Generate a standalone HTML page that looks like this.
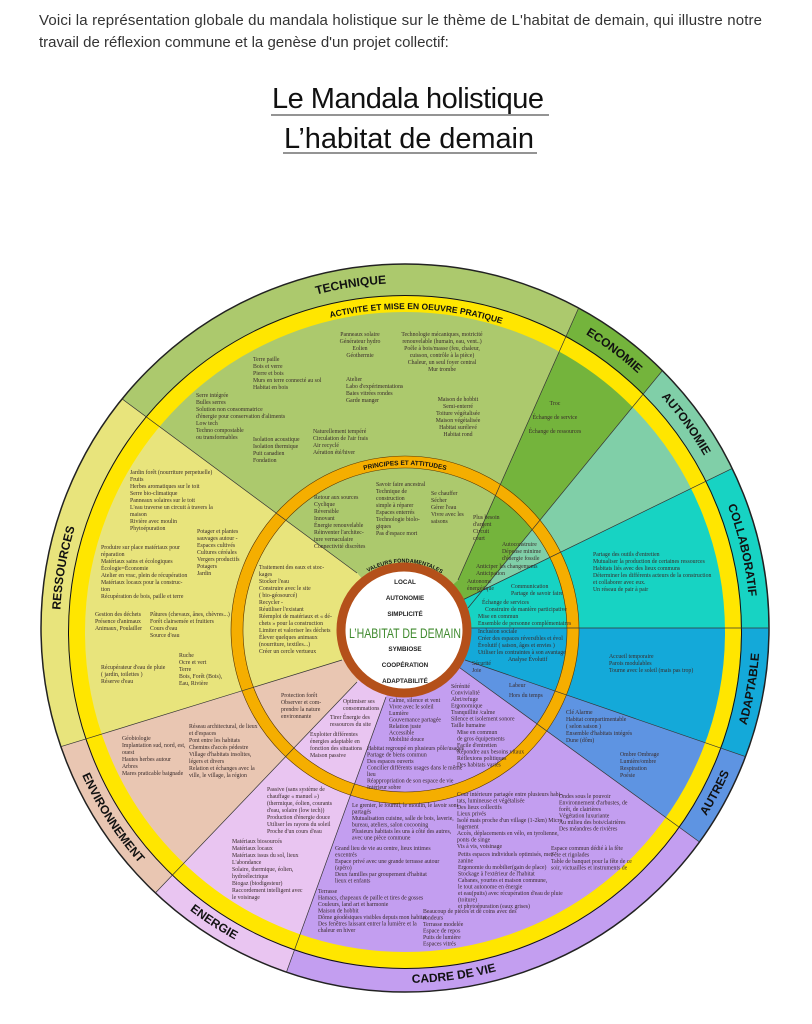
<!DOCTYPE html>
<html><head><meta charset="utf-8"><style>
html,body{margin:0;padding:0;background:#fff;width:812px;height:1024px;overflow:hidden}
svg{display:block}
.t{font-family:"Liberation Serif",serif;font-size:5.8px;fill:#3a2c2c}
.lab{font-family:"Liberation Sans",sans-serif;font-weight:bold;font-size:12px;fill:#111}
</style></head><body>
<svg width="812" height="1024" viewBox="0 0 812 1024" xmlns="http://www.w3.org/2000/svg">
<text x="39" y="25" font-family="Liberation Sans, sans-serif" font-size="15" fill="#333" textLength="723">Voici la représentation globale du mandala holistique sur le thème de L'habitat de demain, qui illustre notre</text>
<text x="39" y="47" font-family="Liberation Sans, sans-serif" font-size="15" fill="#333">travail de réflexion commune et la genèse d'un projet collectif:</text>
<text x="272" y="108" font-family="Liberation Sans, sans-serif" font-size="29" fill="#111" textLength="272">Le Mandala holistique</text>
<line x1="271" y1="115" x2="549" y2="115" stroke="#555" stroke-width="1.2"/>
<text x="284" y="148" font-family="Liberation Sans, sans-serif" font-size="29" fill="#111" textLength="250">L’habitat de demain</text>
<line x1="283" y1="153" x2="537" y2="153" stroke="#555" stroke-width="1.2"/>

<g stroke="none">
<path d="M357 573 L122.2 399 A364 364 0 0 1 578.6 308 L458 580 L405 628Z" fill="#acc96d"/>
<path d="M458 580 L578.6 308 A364 364 0 0 1 662.4 370.6 L468 608 L405 628Z" fill="#74b43c"/>
<path d="M468 608 L662.4 370.6 A364 364 0 0 1 732.2 468.4 L462.5 600 L405 628Z" fill="#80cfa8"/>
<path d="M462.5 600 L732.2 468.4 A364 364 0 0 1 769 628 L469 628 L405 628Z" fill="#17d3c3"/>
<path d="M469 628 L769 628 A364 364 0 0 1 745.4 756.6 L465 660 L405 628Z" fill="#14a9d9"/>
<path d="M465 660 L745.4 756.6 A364 364 0 0 1 699.5 842 L456.8 665.6 L405 628Z" fill="#5e94e2"/>
<path d="M456.8 665.6 L699.5 842 A364 364 0 0 1 286.4 972.2 L386 697 L405 628Z" fill="#c39ef0"/>
<path d="M386 697 L286.4 972.2 A364 364 0 0 1 155.3 893 L357 682 L405 628Z" fill="#e9c5f1"/>
<path d="M357 682 L155.3 893 A364 364 0 0 1 60.7 746.7 L342 660 L405 628Z" fill="#e9c6b2"/>
<path d="M342 660 L60.7 746.7 A364 364 0 0 1 122.2 399 L357 573 L405 628Z" fill="#e8e47c"/>
</g>
<circle cx="405" cy="632" r="328" fill="none" stroke="#ffe600" stroke-width="16"/>
<circle cx="405" cy="632" r="336.5" fill="none" stroke="#111" stroke-width="1"/>
<circle cx="405" cy="628" r="364" fill="none" stroke="#222" stroke-width="1.5"/>
<circle cx="405" cy="630" r="168" fill="none" stroke="#f5ae00" stroke-width="12"/>
<circle cx="405" cy="630" r="174" fill="none" stroke="#553300" stroke-width="0.6"/>
<circle cx="405" cy="630" r="162" fill="none" stroke="#553300" stroke-width="0.6"/>
<g stroke="#333" stroke-width="0.7">
<line x1="357" y1="573" x2="122.2" y2="399"/>
<line x1="458" y1="580" x2="578.6" y2="308"/>
<line x1="468" y1="608" x2="662.4" y2="370.6"/>
<line x1="462.5" y1="600" x2="732.2" y2="468.4"/>
<line x1="469" y1="628" x2="769" y2="628"/>
<line x1="465" y1="660" x2="745.4" y2="756.6"/>
<line x1="456.8" y1="665.6" x2="699.5" y2="842"/>
<line x1="386" y1="697" x2="286.4" y2="972.2"/>
<line x1="357" y1="682" x2="155.3" y2="893"/>
<line x1="342" y1="660" x2="60.7" y2="746.7"/>
</g>
<circle cx="404" cy="630" r="63" fill="#fff" stroke="#b4501a" stroke-width="9"/>

<defs>
<path id="pT" d="M212.1 342 A345 345 0 0 1 500.2 296.5"/>
<path id="pE" d="M476.8 290.6 A345 345 0 0 1 709.6 466.2"/>
<path id="pA" d="M572.3 326.2 A345 345 0 0 1 743.8 562.2"/>
<path id="pC" d="M676.9 415.5 A345 345 0 0 1 742.4 699.8"/>
<path id="pAd" d="M695.7 831.8 A355 355 0 0 0 747.9 536.1"/>
<path id="pAu" d="M618.7 911.6 A355 355 0 0 0 759.6 646.5"/>
<path id="pCa" d="M301.3 967.4 A355 355 0 0 0 598.5 925.8"/>
<path id="pEn" d="M104 816.2 A355 355 0 0 0 355.7 979.5"/>
<path id="pEv" d="M53.5 677.4 A355 355 0 0 0 216.9 929.1"/>
<path id="pR" d="M71.7 717.4 A345 345 0 0 1 122.4 430"/>
<path id="pAc" d="M253.5 346.8 A323 323 0 0 1 576.2 358.1"/>
<path id="pP" d="M322.5 487.1 A165 165 0 0 1 487.5 487.1"/>
<path id="pV" d="M353 584 A70 70 0 0 1 456 586"/>
</defs>
<g class="lab">
<text><textPath href="#pT" startOffset="50%" text-anchor="middle">TECHNIQUE</textPath></text>
<text><textPath href="#pE" startOffset="50%" text-anchor="middle">ECONOMIE</textPath></text>
<text><textPath href="#pA" startOffset="50%" text-anchor="middle">AUTONOMIE</textPath></text>
<text><textPath href="#pC" startOffset="50%" text-anchor="middle">COLLABORATIF</textPath></text>
<text><textPath href="#pAd" startOffset="50%" text-anchor="middle">ADAPTABLE</textPath></text>
<text><textPath href="#pAu" startOffset="50%" text-anchor="middle">AUTRES</textPath></text>
<text><textPath href="#pCa" startOffset="50%" text-anchor="middle">CADRE DE VIE</textPath></text>
<text><textPath href="#pEn" startOffset="50%" text-anchor="middle">ENERGIE</textPath></text>
<text><textPath href="#pEv" startOffset="50%" text-anchor="middle">ENVIRONNEMENT</textPath></text>
<text><textPath href="#pR" startOffset="50%" text-anchor="middle">RESSOURCES</textPath></text>
<text font-size="8.5"><textPath href="#pAc" startOffset="50%" text-anchor="middle">ACTIVITE ET MISE EN OEUVRE PRATIQUE</textPath></text>
<text font-size="6.5"><textPath href="#pP" startOffset="50%" text-anchor="middle">PRINCIPES ET ATTITUDES</textPath></text>
<text font-size="5.5"><textPath href="#pV" startOffset="50%" text-anchor="middle">VALEURS FONDAMENTALES</textPath></text>
</g>
<g font-family="Liberation Sans, sans-serif" font-weight="bold" font-size="6.3" fill="#222" text-anchor="middle">
<text x="405" y="584">LOCAL</text>
<text x="405" y="600">AUTONOMIE</text>
<text x="405" y="616">SIMPLICITÉ</text>
<text x="405" y="651">SYMBIOSE</text>
<text x="405" y="667">COOPÉRATION</text>
<text x="405" y="683">ADAPTABILITÉ</text>
</g>
<text x="405" y="638" text-anchor="middle" font-family="Liberation Sans, sans-serif" font-size="13.5" fill="#3f8a2e" textLength="112" lengthAdjust="spacingAndGlyphs">L’HABITAT DE DEMAIN</text>

<g class="t">
<text x="360" y="336" text-anchor="middle"><tspan x="360">Panneaux solaire</tspan><tspan x="360" dy="7">Générateur hydro</tspan><tspan x="360" dy="7">Eolien</tspan><tspan x="360" dy="7">Géothermie</tspan></text>
<text x="442" y="336" text-anchor="middle"><tspan x="442">Technologie mécaniques, motricité</tspan><tspan x="442" dy="7">renouvelable (humain, eau, vent..)</tspan><tspan x="442" dy="7">Poêle à bois/masse (feu, chaleur,</tspan><tspan x="442" dy="7">cuisson, contrôle à la pièce)</tspan><tspan x="442" dy="7">Chaleur, un seul foyer central</tspan><tspan x="442" dy="7">Mur trombe</tspan></text>
<text x="253" y="361"><tspan x="253">Terre paille</tspan><tspan x="253" dy="7">Bois et verre</tspan><tspan x="253" dy="7">Pierre et bois</tspan><tspan x="253" dy="7">Murs en terre connecté au sol</tspan><tspan x="253" dy="7">Habitat en bois</tspan></text>
<text x="346" y="381"><tspan x="346">Atelier</tspan><tspan x="346" dy="7">Labo d'expérimentations</tspan><tspan x="346" dy="7">Baies vitrées rondes</tspan><tspan x="346" dy="7">Garde manger</tspan></text>
<text x="196" y="397"><tspan x="196">Serre intégrée</tspan><tspan x="196" dy="7">Bulles serres</tspan><tspan x="196" dy="7">Solution non consommatrice</tspan><tspan x="196" dy="7">d'énergie pour conservation d'aliments</tspan><tspan x="196" dy="7">Low tech</tspan><tspan x="196" dy="7">Techno compostable</tspan><tspan x="196" dy="7">ou transformables</tspan></text>
<text x="458" y="401" text-anchor="middle"><tspan x="458">Maison de hobbit</tspan><tspan x="458" dy="7">Semi-enterré</tspan><tspan x="458" dy="7">Toiture végétalisée</tspan><tspan x="458" dy="7">Maison végétalisée</tspan><tspan x="458" dy="7">Habitat surélevé</tspan><tspan x="458" dy="7">Habitat rond</tspan></text>
<text x="253" y="441"><tspan x="253">Isolation acoustique</tspan><tspan x="253" dy="7">Isolation thermique</tspan><tspan x="253" dy="7">Puit canadien</tspan><tspan x="253" dy="7">Fondation</tspan></text>
<text x="313" y="433"><tspan x="313">Naturellement tempéré</tspan><tspan x="313" dy="7">Circulation de l'air frais</tspan><tspan x="313" dy="7">Air recyclé</tspan><tspan x="313" dy="7">Aération été/hiver</tspan></text>
<text x="314" y="499"><tspan x="314">Retour aux sources</tspan><tspan x="314" dy="7">Cyclique</tspan><tspan x="314" dy="7">Réversible</tspan><tspan x="314" dy="7">Innovant</tspan><tspan x="314" dy="7">Énergie renouvelable</tspan><tspan x="314" dy="7">Réinventer l'architec-</tspan><tspan x="314" dy="7">ture vernaculaire</tspan><tspan x="314" dy="7">Connectivité discrètes</tspan></text>
<text x="376" y="486"><tspan x="376">Savoir faire ancestral</tspan><tspan x="376" dy="7">Technique de</tspan><tspan x="376" dy="7">construction</tspan><tspan x="376" dy="7">simple à réparer</tspan><tspan x="376" dy="7">Espaces enterrés</tspan><tspan x="376" dy="7">Technologie biolo-</tspan><tspan x="376" dy="7">giques</tspan><tspan x="376" dy="7">Pas d'espace mort</tspan></text>
<text x="431" y="495"><tspan x="431">Se chauffer</tspan><tspan x="431" dy="7">Sécher</tspan><tspan x="431" dy="7">Gérer l'eau</tspan><tspan x="431" dy="7">Vivre avec les</tspan><tspan x="431" dy="7">saisons</tspan></text>
<text x="555" y="405" text-anchor="middle"><tspan x="555">Troc</tspan><tspan x="555" dy="14">Échange de service</tspan><tspan x="555" dy="14">Échange de ressources</tspan></text>
<text x="473" y="519"><tspan x="473">Plus besoin</tspan><tspan x="473" dy="7">d'argent</tspan><tspan x="473" dy="7">Circuit</tspan><tspan x="473" dy="7">court</tspan></text>
<text x="502" y="546"><tspan x="502">Autoconstruire</tspan><tspan x="502" dy="7">Dépense minime</tspan><tspan x="502" dy="7">d'énergie fossile</tspan></text>
<text x="476" y="568"><tspan x="476">Anticiper les changements</tspan><tspan x="476" dy="7">Anticipation</tspan></text>
<text x="467" y="583"><tspan x="467">Autonome</tspan><tspan x="467" dy="7">énergétique</tspan></text>
<text x="511" y="588"><tspan x="511">Communication</tspan><tspan x="511" dy="7">Partage de savoir faire</tspan></text>
<text x="482" y="604"><tspan x="482">Échange de services</tspan><tspan x="485" dy="7">Construire de manière participative</tspan><tspan x="478" dy="7">Mise en commun</tspan><tspan x="478" dy="7">Ensemble de personne complémentaires</tspan></text>
<text x="593" y="556"><tspan x="593">Partage des outils d'entretien</tspan><tspan x="593" dy="7">Mutualiser la production de certaines ressources</tspan><tspan x="593" dy="7">Habitats liés avec des lieux communs</tspan><tspan x="593" dy="7">Déterminer les différents acteurs de la construction</tspan><tspan x="593" dy="7">et collaborer avec eux.</tspan><tspan x="593" dy="7">Un réseau de pair à pair</tspan></text>
<text x="478" y="633"><tspan x="478">Inclusion sociale</tspan><tspan x="478" dy="7">Créer des espaces réversibles et évol</tspan><tspan x="478" dy="7">Évolutif ( saison, âges et envies )</tspan><tspan x="478" dy="7">Utiliser les contraintes à son avantage</tspan><tspan x="508" dy="7">Analyse Évolutif</tspan></text>
<text x="609" y="658"><tspan x="609">Accueil temporaire</tspan><tspan x="609" dy="7">Parois modulables</tspan><tspan x="609" dy="7">Tourne avec le soleil (mais pas trop)</tspan></text>
<text x="472" y="665"><tspan x="472">Sécurité</tspan><tspan x="472" dy="7">Joie</tspan></text>
<text x="509" y="687"><tspan x="509">Labeur</tspan><tspan x="509" dy="10">Hors du temps</tspan></text>
<text x="566" y="714"><tspan x="566">Clé Alarme</tspan><tspan x="566" dy="7">Habitat compartimentable</tspan><tspan x="566" dy="7">( selon saison )</tspan><tspan x="566" dy="7">Ensemble d'habitats intégrés</tspan><tspan x="566" dy="7">Dune (dôm)</tspan></text>
<text x="620" y="756"><tspan x="620">Ombre Ombrage</tspan><tspan x="620" dy="7">Lumière/ombre</tspan><tspan x="620" dy="7">Respiration</tspan><tspan x="620" dy="7">Poésie</tspan></text>
<text x="451" y="688"><tspan x="451">Sérénité</tspan><tspan x="451" dy="6.5">Convivialité</tspan><tspan x="451" dy="6.5">Abri/refuge</tspan><tspan x="451" dy="6.5">Ergonomique</tspan><tspan x="451" dy="6.5">Tranquillité /calme</tspan><tspan x="451" dy="6.5">Silence et isolement sonore</tspan><tspan x="451" dy="6.5">Taille humaine</tspan></text>
<text x="389" y="702"><tspan x="389">Calme, silence et vent</tspan><tspan x="389" dy="6.5">Vivre avec le soleil</tspan><tspan x="389" dy="6.5">Lumière</tspan><tspan x="389" dy="6.5">Gouvernance partagée</tspan><tspan x="389" dy="6.5">Relation juste</tspan><tspan x="389" dy="6.5">Accessible</tspan><tspan x="389" dy="6.5">Mobilité douce</tspan></text>
<text x="457" y="734"><tspan x="457">Mise en commun</tspan><tspan x="457" dy="6.5">de gros équipements</tspan><tspan x="457" dy="6.5">Facile d'entretien</tspan><tspan x="457" dy="6.5">Répondre aux besoins vitaux</tspan><tspan x="457" dy="6.5">Réflexions politiques</tspan><tspan x="457" dy="6.5">Des habitats variés</tspan></text>
<text x="367" y="750"><tspan x="367">Habitat regroupé en plusieurs pôle/usages</tspan><tspan x="367" dy="6.5">Partage de biens commun</tspan><tspan x="367" dy="6.5">Des espaces ouverts</tspan><tspan x="367" dy="6.5">Concilier différents usages dans le même</tspan><tspan x="367" dy="6.5">lieu</tspan><tspan x="367" dy="6.5">Réappropriation de son espace de vie</tspan><tspan x="367" dy="6.5">Intérieur sobre</tspan></text>
<text x="457" y="796"><tspan x="457">Cour intérieure partagée entre plusieurs habi-</tspan><tspan x="457" dy="6.5">tats, lumineuse et végétalisée</tspan><tspan x="457" dy="6.5">Des lieux collectifs</tspan><tspan x="457" dy="6.5">Lieux privés</tspan><tspan x="457" dy="6.5">Isolé mais proche d'un village (1-2km) Micro</tspan><tspan x="457" dy="6.5">logement</tspan><tspan x="457" dy="6.5">Accès, déplacements en vélo, en tyrolienne,</tspan><tspan x="457" dy="6.5">ponts de singe</tspan><tspan x="457" dy="6.5">Vis à vis, voisinage</tspan></text>
<text x="458" y="856"><tspan x="458">Petits espaces individuels optimisés, mez-</tspan><tspan x="458" dy="6.5">zanine</tspan><tspan x="458" dy="6.5">Ergonomie du mobilier(gain de place)</tspan><tspan x="458" dy="6.5">Stockage à l'extérieur de l'habitat</tspan><tspan x="458" dy="6.5">Cabanes, yourtes et maison commune,</tspan><tspan x="458" dy="6.5">le tout autonome en énergie</tspan><tspan x="458" dy="6.5">et eau(puits) avec récupération d'eau de pluie</tspan><tspan x="458" dy="6.5">(toiture)</tspan><tspan x="458" dy="6.5">et phytoépuration (eaux grises)</tspan></text>
<text x="352" y="807"><tspan x="352">Le grenier, le fournil, le moulin, le lavoir sont</tspan><tspan x="352" dy="6.5">partagés</tspan><tspan x="352" dy="6.5">Mutualisation cuisine, salle de bois, laverie,</tspan><tspan x="352" dy="6.5">bureau, ateliers, salon cocooning</tspan><tspan x="352" dy="6.5">Plusieurs habitats les uns à côté des autres,</tspan><tspan x="352" dy="6.5">avec une pièce commune</tspan></text>
<text x="335" y="850"><tspan x="335">Grand lieu de vie au centre, lieux intimes</tspan><tspan x="335" dy="6.5">excentrés</tspan><tspan x="335" dy="6.5">Espace privé avec une grande terrasse autour</tspan><tspan x="335" dy="6.5">(apéro)</tspan><tspan x="335" dy="6.5">Deux familles par groupement d'habitat</tspan><tspan x="335" dy="6.5">lieux et enfants</tspan></text>
<text x="318" y="893"><tspan x="318">Terrasse</tspan><tspan x="318" dy="6.5">Hamacs, chapeaux de paille et tires de gosses</tspan><tspan x="318" dy="6.5">Couleurs, land art et harmonie</tspan><tspan x="318" dy="6.5">Maison de hobbit</tspan><tspan x="318" dy="6.5">Dôme géodésiques visibles depuis mon habitat</tspan><tspan x="318" dy="6.5">Des fenêtres laissant entrer la lumière et la</tspan><tspan x="318" dy="6.5">chaleur en hiver</tspan></text>
<text x="423" y="913"><tspan x="423">Beaucoup de pièces et de coins avec des</tspan><tspan x="423" dy="6.5">rondeurs</tspan><tspan x="423" dy="6.5">Terrasse modelée</tspan><tspan x="423" dy="6.5">Espace de repos</tspan><tspan x="423" dy="6.5">Puits de lumière</tspan><tspan x="423" dy="6.5">Espaces vitrés</tspan></text>
<text x="559" y="798"><tspan x="559">Ondes sous le pouvoir</tspan><tspan x="559" dy="6.5">Environnement d'arbustes, de</tspan><tspan x="559" dy="6.5">forêt, de clairières</tspan><tspan x="559" dy="6.5">Végétation luxuriante</tspan><tspan x="559" dy="6.5">Au milieu des bois/clairières</tspan><tspan x="559" dy="6.5">Des méandres de rivières</tspan></text>
<text x="551" y="850"><tspan x="551">Espace commun dédié à la fête</tspan><tspan x="551" dy="6.5">Fête et rigolades</tspan><tspan x="551" dy="6.5">Table de banquet pour la fête de ce</tspan><tspan x="551" dy="6.5">soir, victuailles et instruments de</tspan></text>
<text x="281" y="697"><tspan x="281">Protection forêt</tspan><tspan x="281" dy="7">Observer et com-</tspan><tspan x="281" dy="7">prendre la nature</tspan><tspan x="281" dy="7">environnante</tspan></text>
<text x="343" y="703"><tspan x="343">Optimiser ses</tspan><tspan x="343" dy="7">consommations</tspan></text>
<text x="330" y="719"><tspan x="330">Tirer Énergie des</tspan><tspan x="330" dy="7">ressources du site</tspan></text>
<text x="310" y="736"><tspan x="310">Exploiter différentes</tspan><tspan x="310" dy="7">énergies adaptable en</tspan><tspan x="310" dy="7">fonction des situations</tspan><tspan x="310" dy="7">Maison passive</tspan></text>
<text x="267" y="791"><tspan x="267">Passive (sans système de</tspan><tspan x="267" dy="7">chauffage « manuel »)</tspan><tspan x="267" dy="7">(thermique, éolien, courants</tspan><tspan x="267" dy="7">d'eau, solaire (low tech))</tspan><tspan x="267" dy="7">Production d'énergie douce</tspan><tspan x="267" dy="7">Utiliser les rayons du soleil</tspan><tspan x="267" dy="7">Proche d'un cours d'eau</tspan></text>
<text x="232" y="843"><tspan x="232">Matériaux biosourcés</tspan><tspan x="232" dy="7">Matériaux locaux</tspan><tspan x="232" dy="7">Matériaux issus du sol, lieux</tspan><tspan x="232" dy="7">L'abondance</tspan><tspan x="232" dy="7">Solaire, thermique, éolien,</tspan><tspan x="232" dy="7">hydroélectrique</tspan><tspan x="232" dy="7">Biogaz (biodigesteur)</tspan><tspan x="232" dy="7">Raccordement intelligent avec</tspan><tspan x="232" dy="7">le voisinage</tspan></text>
<text x="122" y="740"><tspan x="122">Géobiologie</tspan><tspan x="122" dy="7">Implantation sud, nord, est,</tspan><tspan x="122" dy="7">ouest</tspan><tspan x="122" dy="7">Hautes herbes autour</tspan><tspan x="122" dy="7">Arbres</tspan><tspan x="122" dy="7">Mares praticable baignade</tspan></text>
<text x="189" y="728"><tspan x="189">Réseau architectural, de lieux</tspan><tspan x="189" dy="7">et d'espaces</tspan><tspan x="189" dy="7">Pont entre les habitats</tspan><tspan x="189" dy="7">Chemins d'accès pédestre</tspan><tspan x="189" dy="7">Village d'habitats insolites,</tspan><tspan x="189" dy="7">légers et divers</tspan><tspan x="189" dy="7">Relation et échanges avec la</tspan><tspan x="189" dy="7">ville, le village, la région</tspan></text>
<text x="130" y="474"><tspan x="130">Jardin forêt (nourriture perpetuelle)</tspan><tspan x="130" dy="7">Fruits</tspan><tspan x="130" dy="7">Herbes aromatiques sur le toit</tspan><tspan x="130" dy="7">Serre bio-climatique</tspan><tspan x="130" dy="7">Panneaux solaires sur le toit</tspan><tspan x="130" dy="7">L'eau traverse un circuit à travers la</tspan><tspan x="130" dy="7">maison</tspan><tspan x="130" dy="7">Rivière avec moulin</tspan><tspan x="130" dy="7">Phytoépuration</tspan></text>
<text x="197" y="533"><tspan x="197">Potager et plantes</tspan><tspan x="197" dy="7">sauvages autour -</tspan><tspan x="197" dy="7">Espaces cultivés</tspan><tspan x="197" dy="7">Cultures céréales</tspan><tspan x="197" dy="7">Vergers productifs</tspan><tspan x="197" dy="7">Potagers</tspan><tspan x="197" dy="7">Jardin</tspan></text>
<text x="101" y="549"><tspan x="101">Produire sur place matériaux pour</tspan><tspan x="101" dy="7">réparation</tspan><tspan x="101" dy="7">Matériaux sains et écologiques</tspan><tspan x="101" dy="7">Écologie=Économie</tspan><tspan x="101" dy="7">Atelier en vrac, plein de récupération</tspan><tspan x="101" dy="7">Matériaux locaux pour la construc-</tspan><tspan x="101" dy="7">tion</tspan><tspan x="101" dy="7">Récupération de bois, paille et terre</tspan></text>
<text x="95" y="616"><tspan x="95">Gestion des déchets</tspan><tspan x="95" dy="7">Présence d'animaux</tspan><tspan x="95" dy="7">Animaux, Poulailler</tspan></text>
<text x="150" y="616"><tspan x="150">Pâtures (chevaux, ânes, chèvres...)</tspan><tspan x="150" dy="7">Forêt clairsemée et fruitiers</tspan><tspan x="150" dy="7">Cours d'eau</tspan><tspan x="150" dy="7">Source d'eau</tspan></text>
<text x="179" y="657"><tspan x="179">Ruche</tspan><tspan x="179" dy="7">Ocre et vert</tspan><tspan x="179" dy="7">Terre</tspan><tspan x="179" dy="7">Bois, Forêt (Bois),</tspan><tspan x="179" dy="7">Eau, Rivière</tspan></text>
<text x="101" y="669"><tspan x="101">Récupérateur d'eau de pluie</tspan><tspan x="101" dy="7">( jardin, toilettes )</tspan><tspan x="101" dy="7">Réserve d'eau</tspan></text>
<text x="259" y="569"><tspan x="259">Traitement des eaux et stoc-</tspan><tspan x="259" dy="7">kages</tspan><tspan x="259" dy="7">Stocker l'eau</tspan><tspan x="259" dy="7">Construire avec le site</tspan><tspan x="259" dy="7">( bio-géosourcé)</tspan><tspan x="259" dy="7">Recycler -</tspan><tspan x="259" dy="7">Réutiliser l'existant</tspan><tspan x="259" dy="7">Réemploi de matériaux et « dé-</tspan><tspan x="259" dy="7">chets » pour la construction</tspan><tspan x="259" dy="7">Limiter et valoriser les déchets</tspan><tspan x="259" dy="7">Élever quelques animaux</tspan><tspan x="259" dy="7">(nourriture, textiles...)</tspan><tspan x="259" dy="7">Créer un cercle vertueux</tspan></text>
</g>
</svg>
</body></html>
